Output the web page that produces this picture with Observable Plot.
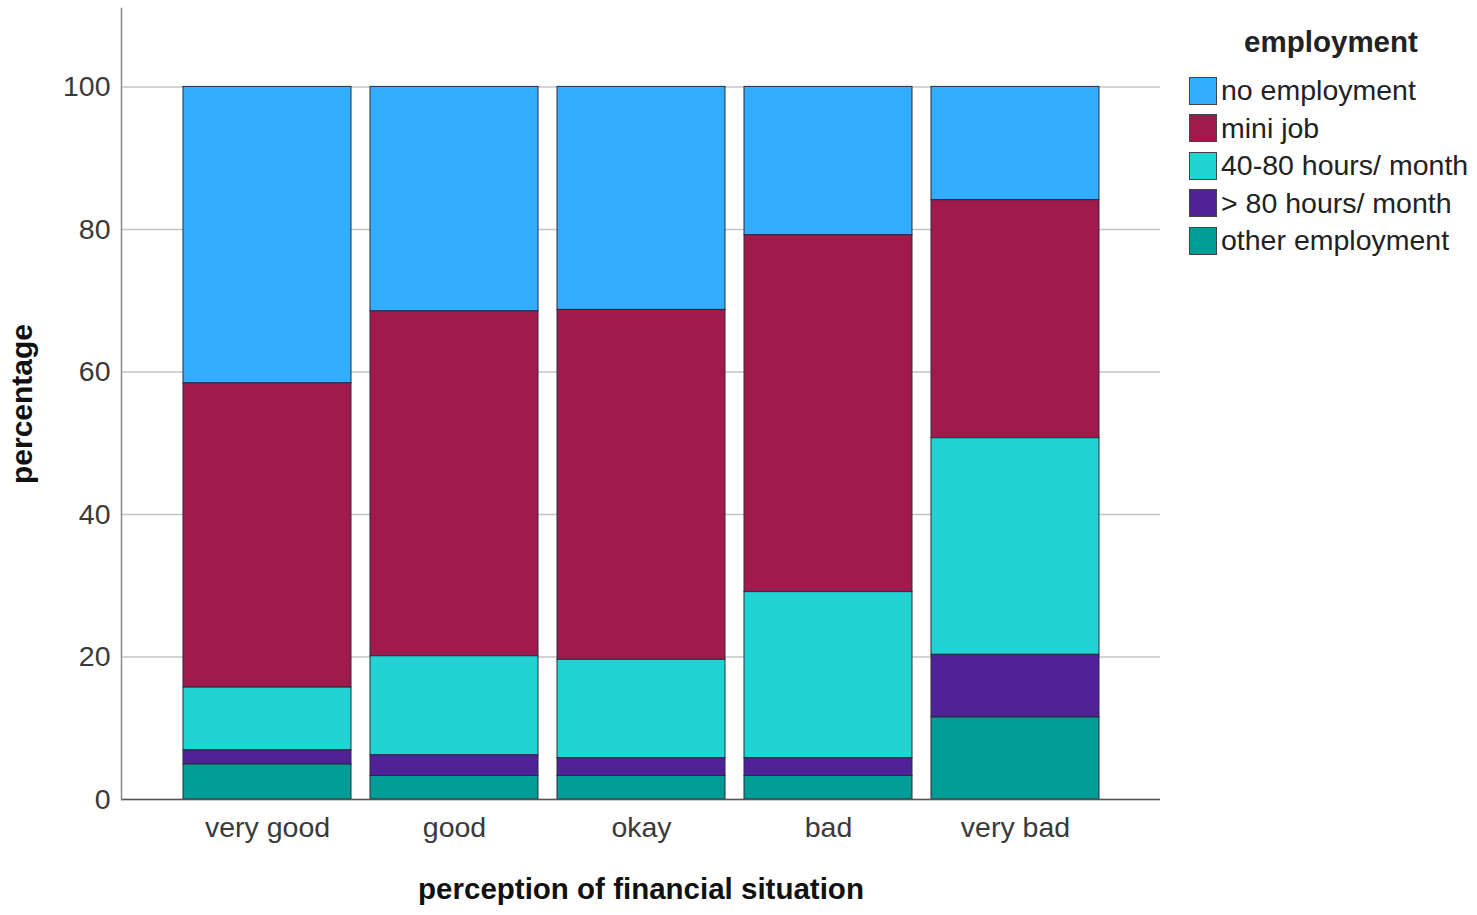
<!DOCTYPE html>
<html>
<head>
<meta charset="utf-8">
<script src="https://cdn.jsdelivr.net/npm/d3@7"></script>
<script src="https://cdn.jsdelivr.net/npm/@observablehq/plot@0.6"></script>
<style>
  body { margin: 0; background: #fff; font-family: "Liberation Sans", Arial, sans-serif; }
  #wrap { position: relative; width: 1477px; height: 915px; }
  #chart { position: absolute; left: 0; top: 0; }
  #legend { position: absolute; left: 1189px; top: 22px; color: #222; }
  #legend .title { font-weight: bold; font-size: 29.5px; width: 284px; text-align: center; height: 50px; line-height: 40px; }
  #legend .item { display: flex; align-items: center; height: 37.5px; font-size: 28.5px; white-space: nowrap; }
  #legend .sw { width: 28px; height: 28px; border: 1px solid #444; box-sizing: border-box; margin-right: 4px; flex: none; }
</style>
</head>
<body>
<div id="wrap">
  <div id="chart"></div>
  <div id="legend"></div>
</div>
<script>
// categories (x)
const categories = ["very good", "good", "okay", "bad", "very bad"];
// series (legend order, top of stack first)
const seriesNames = ["no employment", "mini job", "40-80 hours/ month", "> 80 hours/ month", "other employment"];
const seriesColors = ["#33adff", "#a01a4b", "#22d3d3", "#512198", "#009c96"];
// stacking order, bottom first
const stackOrder = ["other employment", "> 80 hours/ month", "40-80 hours/ month", "mini job", "no employment"];
// percentages per series, one per category
const noEmployment    = [41.6, 31.5, 31.3, 20.8, 15.9];
const miniJob         = [42.7, 48.4, 49.1, 50.1, 33.4];
const hours40to80     = [8.8, 13.9, 13.8, 23.3, 30.4];
const hoursOver80     = [2.0, 2.9, 2.5, 2.5, 8.8];
const otherEmployment = [4.9, 3.3, 3.3, 3.3, 11.5];
const yTicks = [0, 20, 40, 60, 80, 100];

const seriesValues = [noEmployment, miniJob, hours40to80, hoursOver80, otherEmployment];
const data = [];
seriesNames.forEach((s, i) => {
  categories.forEach((c, j) => data.push({category: c, series: s, value: seriesValues[i][j]}));
});

const font = "'Liberation Sans', Arial, sans-serif";

const chart = Plot.plot({
  width: 1170,
  height: 915,
  marginLeft: 121,
  marginRight: 10,
  marginTop: 8,
  marginBottom: 116,
  style: { fontFamily: font, background: "white", overflow: "visible" },
  x: { domain: categories, paddingInner: 0.104, paddingOuter: 0.32 },
  y: { domain: [0, 111] },
  color: { domain: seriesNames, range: seriesColors },
  marks: [
    Plot.gridY(yTicks, { stroke: "#c4c4c4", strokeOpacity: 1, strokeWidth: 1.5 }),
    Plot.barY(data, {
      x: "category", y: "value", fill: "series", order: stackOrder,
      stroke: "#2b2b3a", strokeWidth: 1, inset: 0
    }),
    Plot.ruleY([0], { stroke: "#555", strokeWidth: 1.5 }),
    Plot.frame({ anchor: "left", stroke: "#888", strokeWidth: 1.5 }),
    Plot.axisY(yTicks, { tickSize: 0, tickPadding: 11, fontSize: 28.5, fill: "#3a3a3a", label: null }),
    Plot.axisX({ tickSize: 0, tickPadding: 17, fontSize: 28.5, fill: "#3a3a3a", label: null }),
    Plot.text(["percentage"], {
      frameAnchor: "left", dx: -99, rotate: -90, lineAnchor: "middle", textAnchor: "middle",
      fontSize: 30, fontWeight: "bold", fill: "#111"
    }),
    Plot.text(["perception of financial situation"], {
      frameAnchor: "bottom", dy: 90, lineAnchor: "middle", textAnchor: "middle",
      fontSize: 29.5, fontWeight: "bold", fill: "#111"
    })
  ]
});
document.getElementById("chart").appendChild(chart);

// legend
const legend = document.getElementById("legend");
const title = document.createElement("div");
title.className = "title";
title.textContent = "employment";
legend.appendChild(title);
seriesNames.forEach((s, i) => {
  const item = document.createElement("div");
  item.className = "item";
  const sw = document.createElement("div");
  sw.className = "sw";
  sw.style.background = seriesColors[i];
  const label = document.createElement("span");
  label.textContent = s;
  item.appendChild(sw);
  item.appendChild(label);
  legend.appendChild(item);
});
</script>
</body>
</html>
